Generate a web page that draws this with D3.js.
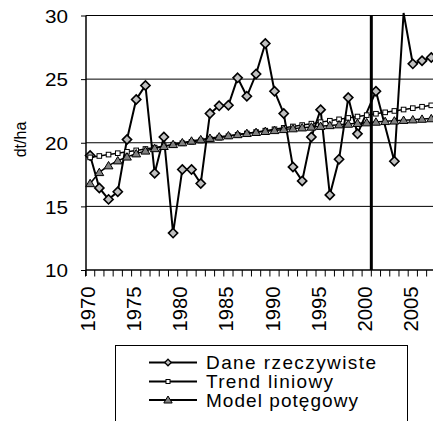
<!DOCTYPE html>
<html><head><meta charset="utf-8">
<script src="https://cdn.jsdelivr.net/npm/d3@7"></script>
<style>
html,body{margin:0;padding:0;background:#fff;overflow:hidden}
svg{display:block}
</style></head>
<body>
<svg id="c" width="433" height="421"></svg>
<script>
const years = [1970,1971,1972,1973,1974,1975,1976,1977,1978,1979,1980,1981,1982,1983,1984,1985,1986,1987,1988,1989,1990,1991,1992,1993,1994,1995,1996,1997,1998,1999,2000,2001,2002,2003,2004,2005,2006,2007];
const dane = [19.0,16.45,15.55,16.15,20.25,23.4,24.5,17.6,20.45,12.9,17.9,17.9,16.8,22.3,22.9,22.95,25.1,23.65,25.4,27.8,24.05,22.3,18.1,17.0,20.45,22.6,15.9,18.7,23.55,20.7,null,24.05,null,18.55,30.2,26.2,26.45,26.7];
const trend = [18.85,18.96,19.07,19.18,19.29,19.40,19.51,19.62,19.73,19.85,19.96,20.07,20.18,20.29,20.40,20.51,20.62,20.73,20.84,20.95,21.06,21.17,21.28,21.39,21.50,21.62,21.73,21.84,21.95,22.06,22.17,22.28,22.39,22.50,22.61,22.72,22.83,22.94];
const model = [16.80,17.67,18.20,18.59,18.89,19.14,19.36,19.55,19.72,19.87,20.01,20.14,20.25,20.36,20.47,20.56,20.65,20.74,20.82,20.90,20.97,21.05,21.11,21.18,21.24,21.30,21.36,21.42,21.47,21.53,21.58,21.63,21.68,21.72,21.77,21.81,21.86,21.90];
const yTicks = [10,15,20,25,30];
const xLabels = [1970,1975,1980,1985,1990,1995,2000,2005];
const seriesNames = ["Dane rzeczywiste","Trend liniowy","Model potęgowy"];
const markerYear = 2000;

// pick an Arial-like font that is really installed
function pickFont(){
  const c = document.createElement("canvas").getContext("2d");
  const s = "Dane rzeczywiste 1970 WMwi";
  c.font = "40px monospace"; const base = c.measureText(s).width;
  c.font = "40px serif"; const base2 = c.measureText(s).width;
  const cands = ["Liberation Sans","Arimo","Arial","Helvetica","Roboto","Noto Sans"];
  for(const f of cands){
    c.font = `40px "${f}", monospace`; const w1 = c.measureText(s).width;
    c.font = `40px "${f}", serif`; const w2 = c.measureText(s).width;
    if(Math.abs(w1-base)>0.5 || Math.abs(w2-base2)>0.5) return `"${f}"`;
  }
  return "sans-serif";
}
const FONT = pickFont();

const svg = d3.select("#c").attr("font-family", FONT);
const left = 85.5, step = 9.22;
const x = d3.scaleBand().domain(years).range([left, left + years.length*step]).padding(0);
const cx = yr => x(yr) + x.bandwidth()/2;
const y = d3.scaleLinear().domain([10,30]).range([270, 15.5]);

// gridlines
svg.append("g").selectAll("line").data(yTicks.filter(v=>v>10)).join("line")
  .attr("x1", 86).attr("x2", 433).attr("y1", d=>y(d)).attr("y2", d=>y(d))
  .attr("stroke", "#000").attr("stroke-width", 1);

// y axis
const ya = svg.append("g").attr("transform","translate(86,0)")
  .call(d3.axisLeft(y).tickValues(yTicks).tickSize(5).tickPadding(13).tickFormat(d3.format("d")));
ya.attr("font-family", FONT);
ya.select(".domain").attr("stroke","#000").attr("stroke-width",1.5).attr("d","M0,15.5V276");
ya.selectAll(".tick line").attr("stroke","#000");
ya.selectAll(".tick text").attr("font-size",19).attr("fill","#000")
  .attr("textLength",23).attr("lengthAdjust","spacingAndGlyphs").attr("dy","0.35em");

// x axis line + ticks at category boundaries
const xa = svg.append("g");
xa.append("line").attr("x1",86).attr("x2",433).attr("y1",270).attr("y2",270).attr("stroke","#000").attr("stroke-width",1.5);
xa.selectAll("line.tk").data(years).join("line").attr("class","tk")
  .attr("x1", d=>x(d)).attr("x2", d=>x(d)).attr("y1",270).attr("y2",276.5)
  .attr("stroke","#000").attr("stroke-width",1);
xa.selectAll("text").data(xLabels).join("text")
  .attr("transform", d=>`translate(${cx(d)+5},286.5) rotate(-90)`)
  .attr("text-anchor","end").attr("font-size",20).attr("fill","#000")
  .attr("textLength",45).attr("lengthAdjust","spacingAndGlyphs")
  .text(d=>d);

// y title
svg.append("text").attr("transform","translate(26,139.5) rotate(-90)")
  .attr("text-anchor","middle").attr("font-size",16).attr("fill","#000").text("dt/ha");

const line = d3.line().x(d=>cx(d.yr)).y(d=>y(d.v));
const toPts = arr => years.map((yr,i)=>({yr, v:arr[i]})).filter(d=>d.v!==null);

// Dane rzeczywiste
const dPts = toPts(dane);
svg.append("path").attr("d", line(dPts)).attr("fill","none").attr("stroke","#000").attr("stroke-width",2);
svg.append("g").selectAll("path").data(dPts.filter(d=>d.v<=30)).join("path")
  .attr("d", "M0,-4.6L4.6,0L0,4.6L-4.6,0Z")
  .attr("transform", d=>`translate(${cx(d.yr)},${y(d.v)})`)
  .attr("fill","#c0c0c0").attr("stroke","#000").attr("stroke-width",1.6);

// Trend liniowy
const tPts = toPts(trend);
svg.append("path").attr("d", line(tPts)).attr("fill","none").attr("stroke","#000").attr("stroke-width",1.5);
svg.append("g").selectAll("rect").data(tPts).join("rect")
  .attr("x", d=>cx(d.yr)-2.3).attr("y", d=>y(d.v)-2.3).attr("width",4.6).attr("height",4.6)
  .attr("fill","#fff").attr("stroke","#000").attr("stroke-width",1);

// Model potęgowy
const mPts = toPts(model);
svg.append("path").attr("d", line(mPts)).attr("fill","none").attr("stroke","#000").attr("stroke-width",1.5);
svg.append("g").selectAll("path").data(mPts).join("path")
  .attr("d","M0,-4.2L4.4,3.2L-4.4,3.2Z")
  .attr("transform", d=>`translate(${cx(d.yr)},${y(d.v)})`)
  .attr("fill","#808080").attr("stroke","#000").attr("stroke-width",1);

// vertical marker line between 2000 and 2001
const vx = x(markerYear) + x.bandwidth();
svg.append("line").attr("x1",vx).attr("x2",vx).attr("y1",15).attr("y2",270)
  .attr("stroke","#000").attr("stroke-width",3);

// legend
const lg = svg.append("g");
lg.append("rect").attr("x",115.5).attr("y",345.5).attr("width",292).attr("height",100)
  .attr("fill","#fff").attr("stroke","#000").attr("stroke-width",1);
const rowsY = [362.5, 381.5, 400];
const widths = [170, 127, 152];
seriesNames.forEach((nm,i)=>{
  const ry = rowsY[i];
  lg.append("line").attr("x1",149).attr("x2",197).attr("y1",ry).attr("y2",ry).attr("stroke","#000").attr("stroke-width",2);
  if(i===0){
    lg.append("path").attr("d","M0,-3.3L3.3,0L0,3.3L-3.3,0Z").attr("transform",`translate(168,${ry})`)
      .attr("fill","#c0c0c0").attr("stroke","#000").attr("stroke-width",1.3);
  } else if(i===1){
    lg.append("rect").attr("x",166).attr("y",ry-2).attr("width",4).attr("height",4)
      .attr("fill","#fff").attr("stroke","#000").attr("stroke-width",1);
  } else {
    lg.append("path").attr("d","M0,-4L4.2,3L-4.2,3Z").attr("transform",`translate(168,${ry})`)
      .attr("fill","#808080").attr("stroke","#000").attr("stroke-width",1);
  }
  lg.append("text").attr("x",206).attr("y",ry+6.5).attr("font-size",19).attr("fill","#000")
    .attr("textLength",widths[i]).attr("lengthAdjust","spacing").text(nm);
});
</script>
</body></html>
